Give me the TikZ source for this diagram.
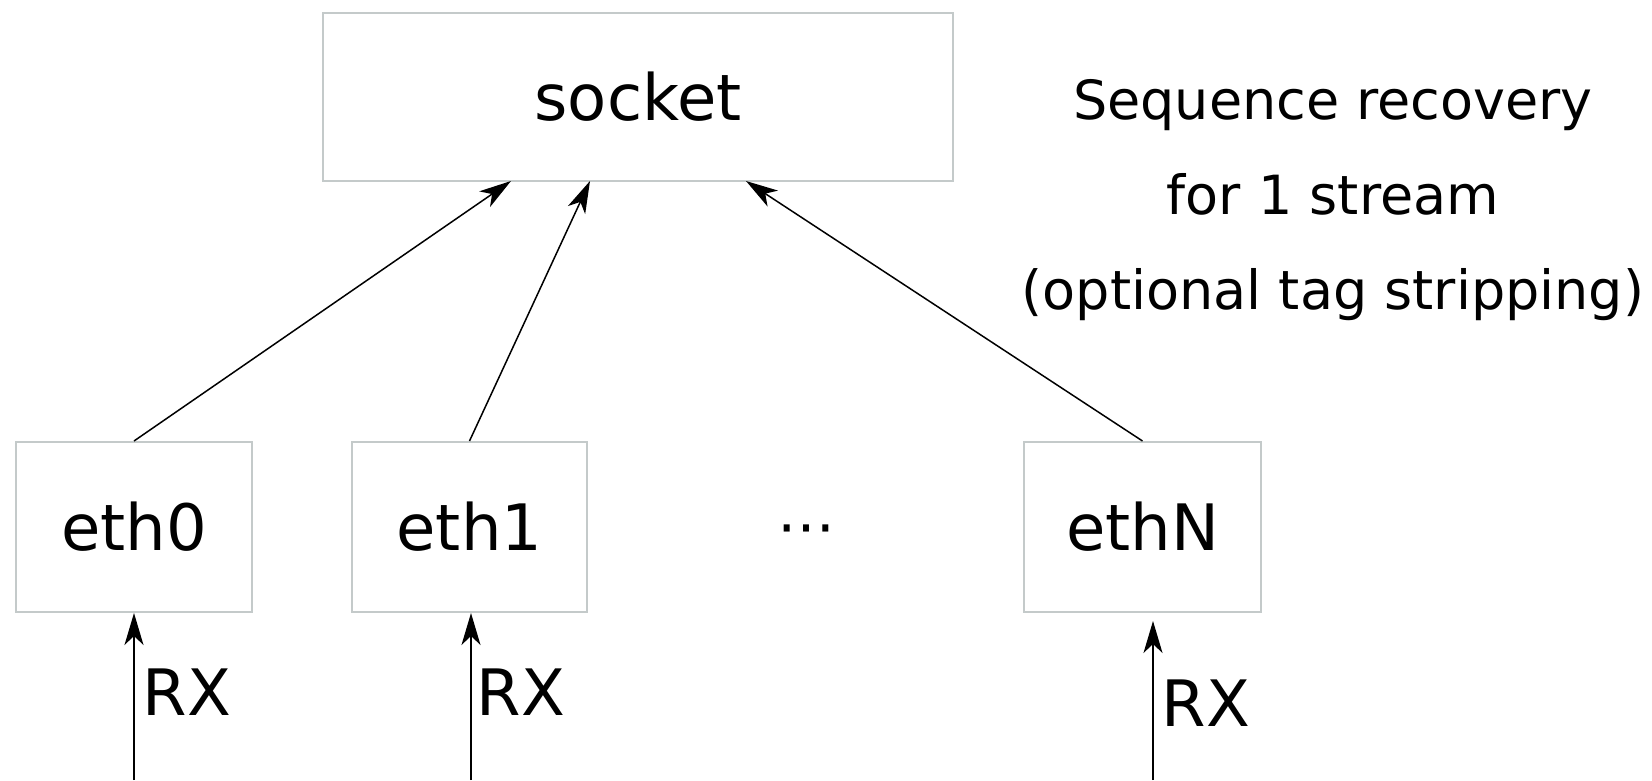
\documentclass[tikz,border=0pt]{standalone}
\usepackage{fontspec}
\setmainfont{DejaVu Sans}
\usetikzlibrary{arrows.meta}
\definecolor{rim}{RGB}{196, 202, 202}

\begin{document}
\begin{tikzpicture}[
  box/.style={rectangle, fill=white, draw=rim, line width=2pt, inner sep=0pt,
    font=\fontsize{64}{76}\selectfont},
  link/.style={line width=1.5pt, color=black, -{Stealth[length=32pt, width=19pt, inset=9pt]}},
  note/.style={anchor=base, font=\fontsize{54}{66}\selectfont}]
\useasboundingbox (0pt, 0pt) rectangle (1652pt, -780pt);
\node (sock) [box, minimum width=630pt, minimum height=168pt] at (638.0pt, -97.0pt) {socket};
\node (e0) [box, minimum width=236pt, minimum height=170pt] at (134.0pt, -527.0pt) {eth0};
\node (e1) [box, minimum width=235pt, minimum height=170pt] at (469.5pt, -527.0pt) {eth1};
\node (eN) [box, minimum width=237pt, minimum height=170pt] at (1142.5pt, -527.0pt) {ethN};
\node (dots) [font=\fontsize{58}{70}\selectfont] at (806.0pt, -536.0pt) {⋯};
% text on the right
\node (l1) [note] at (1333.0pt, -119.0pt) {Sequence recovery};
\node (l2) [note] at (1333.0pt, -214.0pt) {for 1 stream};
\node (l3) [note] at (1333.0pt, -309.0pt) {(optional tag stripping)};
% links up to the socket
\draw [link] (e0.north) to (511.0pt, -181.0pt);
\draw [link] (e1.north) to (590.0pt, -181.0pt);
\draw [link] (eN.north) to (746.0pt, -181.0pt);
% incoming frames
\coordinate (in0) at (134.0pt, -780.0pt);
\coordinate (in1) at (471.0pt, -780.0pt);
\coordinate (inN) at (1153.0pt, -780.0pt);
\draw [link] (in0) to (in0 |- e0.south);
\draw [link] (in1) to (in1 |- e1.south);
\draw [link, shorten >=8pt] (inN) to (inN |- eN.south);
\node (rx0) [anchor=base west, font=\fontsize{64}{76}\selectfont] at (139.0pt, -715.0pt) {RX};
\node (rx1) [anchor=base west, font=\fontsize{64}{76}\selectfont] at (473.0pt, -715.0pt) {RX};
\node (rxN) [anchor=base west, font=\fontsize{64}{76}\selectfont] at (1158.0pt, -726.0pt) {RX};
\end{tikzpicture}
\end{document}
